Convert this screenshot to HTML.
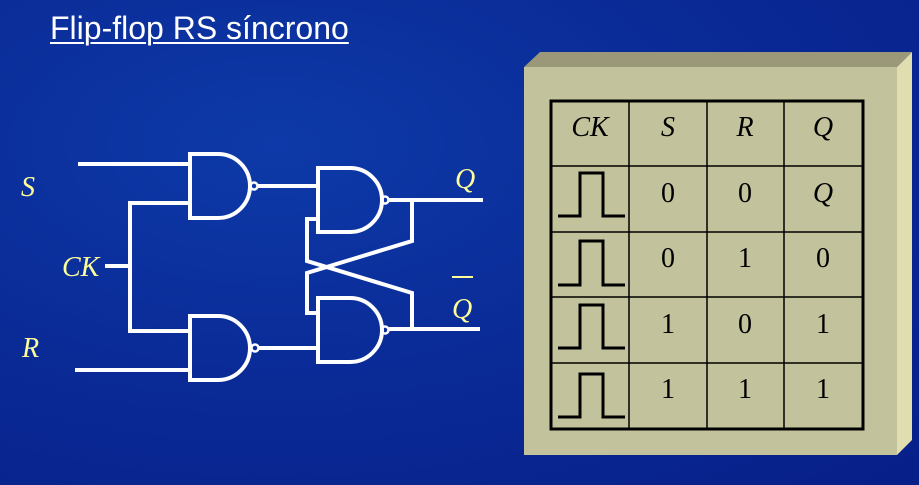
<!DOCTYPE html>
<html><head><meta charset="utf-8"><style>
html,body{margin:0;padding:0;}
body{width:919px;height:485px;overflow:hidden;background:radial-gradient(ellipse at 30% 30%,#0d3aa8 0%,#0a2a96 50%,#071f88 100%);position:relative;}
.t{position:absolute;left:50px;top:10px;font-family:"Liberation Sans",sans-serif;font-size:32px;line-height:36px;color:#fff;text-decoration:underline;text-underline-offset:3px;text-decoration-thickness:2px;}
</style></head><body>
<div class="t">Flip-flop RS síncrono</div>
<svg width="919" height="485" style="position:absolute;left:0;top:0">
<g fill="none" stroke="#fff" stroke-width="4">
<path d="M78 164H190M190 203H130V331H190M105 266H130M75 370H190"/>
<path d="M190 154H218A32 32 0 0 1 218 218H190Z"/>
<path d="M190 316H218A32 32 0 0 1 218 380H190Z"/>
<circle cx="254" cy="186" r="3.5" stroke-width="2.5"/>
<circle cx="255" cy="348" r="3.5" stroke-width="2.5"/>
<path d="M258 186H318M259 348H318"/>
<path d="M318 168H350A32 32 0 0 1 350 232H318Z"/>
<path d="M318 298H350A32 32 0 0 1 350 362H318Z"/>
<circle cx="385" cy="200" r="3.5" stroke-width="2.5"/>
<circle cx="385" cy="330" r="3.5" stroke-width="2.5"/>
<path d="M389 200H483M389 329H480"/>
<path d="M412 200V241L307 273V313H318"/>
<path d="M318 219H307V261L412 293V329"/>
</g>
<g font-family="Liberation Serif,serif" font-style="italic" font-size="28" fill="#ffff99">
<text x="21" y="196">S</text><text x="62" y="276">CK</text><text x="22" y="357">R</text>
<text x="455" y="188">Q</text><text x="452" y="318">Q</text>
</g>
<path d="M452 277H473" stroke="#ffff99" stroke-width="2"/>
<polygon points="524,67 540,52 912,52 897,67" fill="#9a9878"/>
<polygon points="897,67 912,52 912,440 897,455" fill="#e0deb0"/>
<rect x="524" y="67" width="373" height="388" fill="#c2c29c"/>
<g stroke="#000" fill="none">
<rect x="551" y="101" width="312" height="328" stroke-width="3"/>
<path d="M629 101V429M707 101V429M784 101V429M551 166H863M551 232H863M551 297H863M551 363H863" stroke-width="1.5"/>
<g stroke-width="3">
<path d="M558 216H580V173H603V216H625"/>
<path d="M558 285H580V241H603V285H625"/>
<path d="M558 348H580V305H603V348H625"/>
<path d="M558 417H580V374H603V417H625"/>
</g>
</g>
<g font-family="Liberation Serif,serif" font-size="28" fill="#000" text-anchor="middle">
<g font-style="italic"><text x="590" y="136">CK</text><text x="668" y="136">S</text><text x="745" y="136">R</text><text x="823" y="136">Q</text><text x="823" y="202">Q</text></g>
<text x="668" y="202">0</text><text x="745" y="202">0</text>
<text x="668" y="267">0</text><text x="745" y="267">1</text><text x="823" y="267">0</text>
<text x="668" y="333">1</text><text x="745" y="333">0</text><text x="823" y="333">1</text>
<text x="668" y="398">1</text><text x="745" y="398">1</text><text x="823" y="398">1</text>
</g>
</svg>
</body></html>
